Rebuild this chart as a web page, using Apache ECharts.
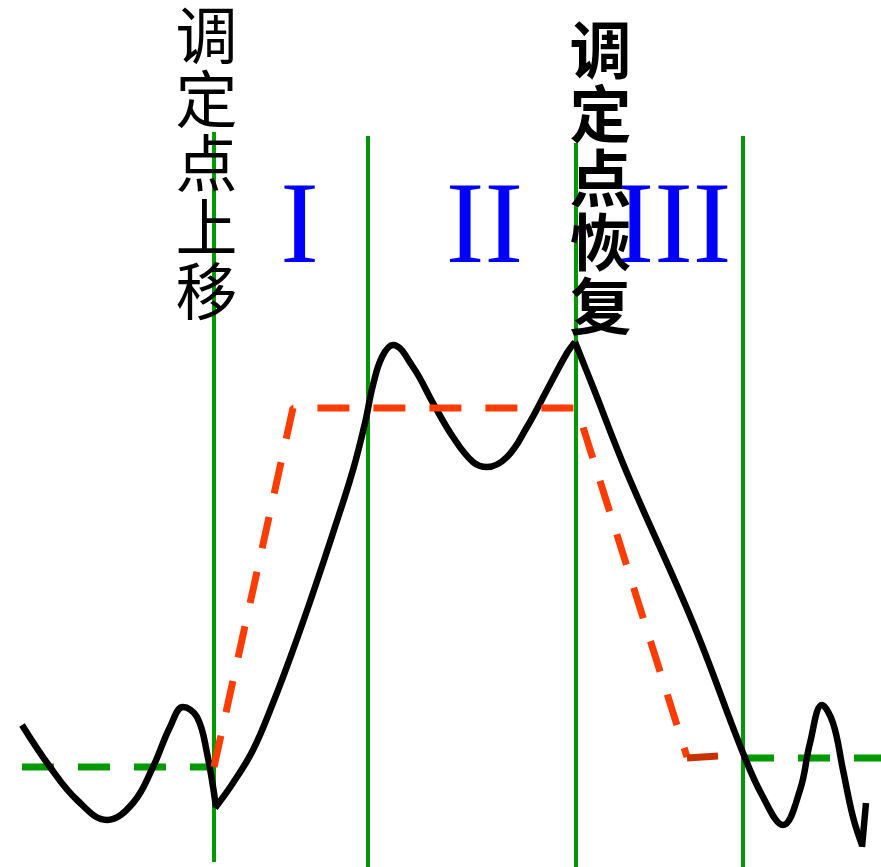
<!DOCTYPE html>
<html>
<head>
<meta charset="utf-8">
<script src="https://cdn.jsdelivr.net/npm/echarts@6/dist/echarts.min.js"></script>
<style>
  html, body { margin: 0; padding: 0; background: #fff; }
  #chart { width: 881px; height: 867px; }
</style>
</head>
<body>
<div id="chart"></div>
<script>
// 体温曲线（三段，拐点处不平滑）
var curveA = [[22, 142], [50, 100], [77, 67], [107, 47], [133, 64], [153, 100], [170, 140], [183, 160], [197, 150], [207, 114], [216, 60]];
var curveB = [[215, 59], [233, 84], [253, 117], [273, 164], [293, 217], [313, 274], [333, 334], [353, 397], [365, 444], [373, 482], [382, 510], [393, 522], [413, 500], [433, 464], [453, 430], [473, 405], [487, 400], [507, 410], [527, 440], [547, 477], [567, 514], [575, 525]];
var curveC = [[575, 525], [593, 480], [627, 394], [693, 244], [743, 114], [763, 70], [783, 42], [800, 77], [810, 124], [822, 162], [833, 144], [843, 97], [853, 50], [862, 22]];
var curveEnd = [[862, 20], [866, 64]];

// 调定点（红色虚线）
var setPoint = [[214, 100], [293, 459], [577, 459], [687, 110]];
var setPointTail = [[687, 109], [718, 111]];

// 正常调定点（绿色虚线）
var normalLeft = [[22, 100], [214, 100]];
var normalRight = [[742, 109], [881, 109]];

// 分期竖线
var dividerX = [214, 368, 576, 743];
var dividerTop = [735, 731, 724, 731];
var dividerBottom = [5, 0, 0, 0];

// 文字
var stageLabels = ['I', 'II', 'III'];
var stageX = [300, 485, 674];
var stageY = 635;
var noteTexts = ['调定点上移', '调定点恢复'];
var noteWeight = ['normal', 'bold'];
var noteX = [207, 601];
var noteY = [863, 848];

var chart = echarts.init(document.getElementById('chart'));

var series = [];

for (var i = 0; i < dividerX.length; i++) {
  series.push({
    type: 'line',
    data: [[dividerX[i], dividerTop[i]], [dividerX[i], dividerBottom[i]]],
    showSymbol: false,
    lineStyle: { color: '#009900', width: 4 }
  });
}

[normalLeft, normalRight].forEach(function (d) {
  series.push({
    type: 'line',
    data: d,
    showSymbol: false,
    lineStyle: { color: '#009900', width: 7, type: [32, 24] }
  });
});

[curveA, curveB, curveC].forEach(function (d) {
  series.push({
    type: 'line',
    data: d,
    smooth: 0.4,
    showSymbol: false,
    lineStyle: { color: '#000', width: 6.5, cap: 'butt', join: 'miter' }
  });
});
series.push({
  type: 'line',
  data: curveEnd,
  showSymbol: false,
  lineStyle: { color: '#000', width: 6.5 }
});

series.push({
  type: 'line',
  data: setPoint,
  showSymbol: false,
  lineStyle: { color: '#ff3c00', width: 7, type: [32, 24] }
});
series.push({
  type: 'line',
  data: setPointTail,
  showSymbol: false,
  lineStyle: { color: '#c83200', width: 7 }
});

// 罗马数字
series.push({
  type: 'scatter',
  symbolSize: 1,
  itemStyle: { color: 'rgba(0,0,0,0)', opacity: 1 },
  data: stageLabels.map(function (t, i) { return [stageX[i], stageY, t]; }),
  label: {
    show: true,
    position: [0, 0],
    align: 'center',
    verticalAlign: 'middle',
    formatter: function (p) { return p.value[2]; },
    fontFamily: 'Liberation Serif',
    fontSize: 116,
    color: '#0000ff'
  },
  z: 5
});

// 竖排说明文字
series.push({
  type: 'scatter',
  symbolSize: 1,
  itemStyle: { color: 'rgba(0,0,0,0)', opacity: 1 },
  data: noteTexts.map(function (t, i) {
    return {
      value: [noteX[i], noteY[i], t],
      label: { fontWeight: noteWeight[i] }
    };
  }),
  label: {
    show: true,
    position: [0, 0],
    align: 'center',
    verticalAlign: 'top',
    formatter: function (p) { return p.value[2].split('').join('\n'); },
    fontFamily: 'Noto Sans CJK SC',
    fontSize: 62,
    lineHeight: 64,
    color: '#000'
  },
  z: 6
});

var option = {
  animation: false,
  grid: { left: 0, right: 0, top: 0, bottom: 0 },
  xAxis: { type: 'value', min: 0, max: 881, show: false },
  yAxis: { type: 'value', min: 0, max: 867, show: false },
  series: series
};

chart.setOption(option);
</script>
</body>
</html>
